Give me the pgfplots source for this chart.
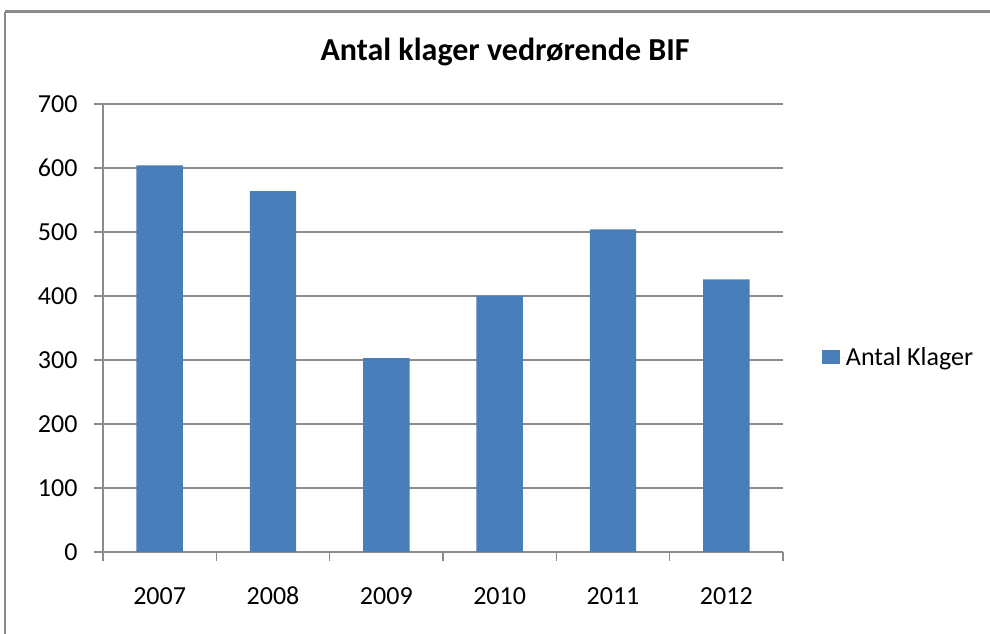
\documentclass[border=0pt]{standalone}
\usepackage{fontspec}
\setmainfont{Carlito}
\usepackage{pgfplots}
\pgfplotsset{compat=1.18}
\definecolor{barblue}{HTML}{4A7EBB}
\definecolor{gridgrey}{HTML}{8C8C8C}
\definecolor{framegrey}{HTML}{8A8A8A}
\begin{document}
\begin{tikzpicture}[x=1pt,y=1pt]
\useasboundingbox (0,0) rectangle (990,634);
\draw[framegrey,line width=3pt] (5,622) -- (992,622);
\draw[framegrey,line width=1.5pt] (5,622) -- (5,-2);
\node[font=\fontsize{32}{36}\selectfont\bfseries] at (505,582) {Antal klager vedrørende BIF};
\begin{axis}[
  at={(103pt,82pt)}, anchor=south west,
  scale only axis, width=680pt, height=448pt,
  xmin=-0.5, xmax=5.5, ymin=0, ymax=700,
  axis x line*=bottom, axis y line*=left,
  axis line style={gridgrey, line width=1.5pt, -},
  ytick={0,100,...,700},
  xtick={-0.5,0.5,...,5.5},
  x tick label as interval,
  xticklabels={2007,2008,2009,2010,2011,2012},
  tick align=outside,
  major tick length=9pt,
  tick style={gridgrey, line width=1.5pt},
  ymajorgrids, grid style={gridgrey, line width=1.5pt},
  /pgf/number format/assume math mode=true,
  ticklabel style={font=\fontsize{26}{30}\selectfont},
  xticklabel style={anchor=north, text height=18pt, text depth=0pt, yshift=-22pt},
  yticklabel style={xshift=-13pt},
  ybar, bar width=0.41,
  legend style={at={(1.057,0.435)}, anchor=west, draw=none, fill=none,
    inner sep=0pt, font=\fontsize{26}{30}\selectfont,
    legend cell align=left, nodes={inner sep=0pt}},
  legend image code/.code={\path (0pt,0pt) -- (24pt,0pt);\fill[barblue] (0pt,-7pt) rectangle (18pt,7pt);},
]
\addplot[fill=barblue, draw=none] coordinates {(0,604) (1,564) (2,303) (3,400) (4,504) (5,426)};
\addlegendentry{Antal Klager}
\end{axis}
\end{tikzpicture}
\end{document}
